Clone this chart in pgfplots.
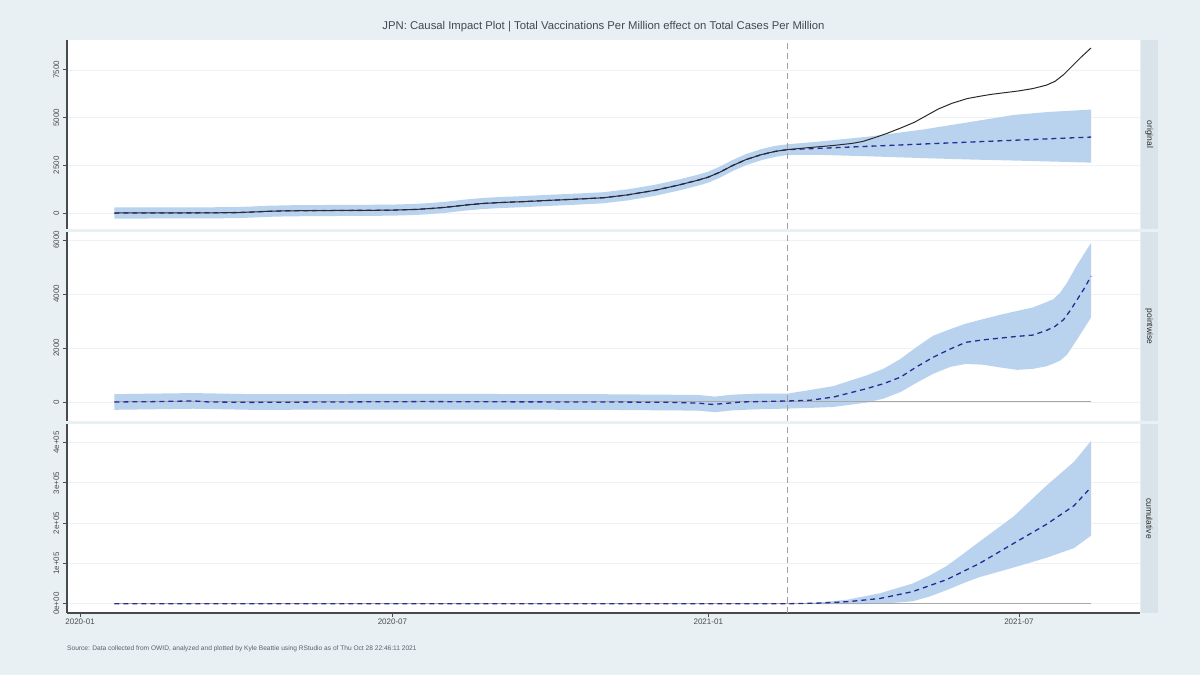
\documentclass[border=0pt]{standalone}
\usepackage{pgfplots}
\pgfplotsset{compat=1.18}
\usepackage{pgfplotstable}
\usepgfplotslibrary{fillbetween}
\usepackage{fontspec}
\setmainfont{Liberation Sans}

\definecolor{bgc}{HTML}{E8F0F3}
\definecolor{stripc}{HTML}{D9E4EA}
\definecolor{bandc}{HTML}{B9D3EE}
\definecolor{meanc}{RGB}{40,42,150}
\definecolor{respc}{HTML}{2B2B2B}
\definecolor{axisc}{HTML}{4A4A4A}
\definecolor{tickc}{HTML}{4D4D4D}
\definecolor{gridc}{HTML}{EFF2F4}
\definecolor{zeroc}{HTML}{A8A8A8}
\definecolor{vlinec}{HTML}{A0A0A0}
\definecolor{titlec}{HTML}{404A55}
\definecolor{srcc}{HTML}{5A6068}

% ---------- Panel 1: original ----------
\pgfplotstableread{
d y
20 0
40 2
60 5
80 12
91 20
100 50
110 90
121 115
135 125
152 134
167 140
182 150
196 190
205 240
213 300
220 370
227 440
235 500
244 545
259 600
274 665
290 730
305 800
319 950
335 1190
349 1470
360 1720
366 1880
373 2150
380 2480
388 2800
397 3060
405 3230
412 3320
425 3430
439 3540
450 3650
456 3750
463 3950
470 4170
478 4450
486 4750
493 5100
500 5450
508 5750
517 6000
525 6130
531 6220
540 6320
547 6400
555 6520
563 6700
568 6900
573 7250
578 7700
583 8150
589 8650
}\respA

\pgfplotstableread{
d m
20 0
40 2
60 5
80 12
91 20
100 50
110 90
121 115
135 125
152 134
167 140
182 150
196 190
205 240
213 300
220 370
227 440
235 500
244 545
259 600
274 665
290 730
305 800
319 950
335 1190
349 1470
360 1720
366 1880
373 2150
380 2480
388 2800
397 3060
405 3230
412 3320
460 3499
520 3723
589 3980
}\meanA

\pgfplotstableread{
d lo hi
20 -290 290
40 -288 292
60 -285 295
80 -278 302
91 -270 310
100 -240 340
110 -200 380
121 -175 405
135 -165 415
152 -156 424
167 -150 430
182 -140 440
196 -100 480
205 -50 530
213 10 590
220 80 660
227 150 730
235 210 790
244 255 835
259 310 890
274 375 955
290 440 1020
305 510 1090
319 660 1240
335 900 1480
349 1180 1760
360 1430 2010
366 1590 2170
373 1860 2440
380 2190 2770
388 2510 3090
397 2770 3350
405 2940 3520
412 3040 3600
430 3050 3740
460 2970 4010
490 2880 4360
520 2800 4790
544 2750 5140
565 2700 5300
589 2640 5420
}\bandA

% ---------- Panel 2: pointwise ----------
\pgfplotstableread{
d m
20 0
40 10
66 40
75 0
100 -15
150 0
200 15
250 5
300 0
340 -10
360 -40
368 -90
375 -60
385 0
400 20
412 37
425 61
439 184
458 490
468 675
478 920
487 1288
497 1656
507 1963
516 2209
526 2300
546 2430
555 2478
563 2650
568 2800
573 3050
577 3400
581 3800
585 4200
589 4660
}\meanB

\pgfplotstableread{
d lo hi
20 -290 290
66 -250 330
100 -290 290
200 -280 300
300 -290 290
360 -320 260
370 -380 200
380 -310 270
395 -270 310
412 -245 310
425 -220 440
439 -184 590
458 -25 980
468 123 1227
478 368 1595
487 700 2020
497 1043 2454
507 1300 2699
516 1411 2900
526 1380 3068
536 1280 3230
546 1190 3374
555 1227 3497
563 1320 3700
567 1420 3804
571 1534 4050
575 1750 4417
581 2331 5092
589 3129 5890
}\bandB

% ---------- Panel 3: cumulative ----------
\pgfplotstableread{
d m
20 0
412 0
430 1500
447 5000
466 13000
485 30000
505 60000
524 100000
544 150000
563 197000
579 243000
589 289000
}\meanC

\pgfplotstableread{
d lo hi
412 0 0
430 -1000 3000
447 -1000 10000
466 -500 26000
485 6000 50000
495 18000 70000
505 34000 94000
514 50000 122000
524 66000 154000
544 90000 217000
563 114000 293000
579 138000 352000
589 169000 404000
}\bandC

\pgfplotsset{
  panel/.style={
    scale only axis, width=1073pt, height=189pt,
    xmin=-7.6, xmax=617.5,
    axis background/.style={fill=white},
    axis line style={draw=axisc, line width=1.1pt},
    ymajorgrids, grid style={draw=gridc, line width=0.7pt},
    tick style={draw=axisc, line width=0.8pt},
    major tick length=4pt,
    tick align=outside,
    yticklabel style={rotate=90, anchor=south, font=\fontsize{8}{9}\selectfont, text=tickc, inner sep=1pt, yshift=2.5pt},
    xticklabel style={font=\fontsize{8}{9}\selectfont, text=tickc, inner sep=1.5pt},
    scaled y ticks=false,
    /pgf/number format/assume math mode=true,
    axis y line*=left,
  },
  bandstyle/.style={fill=bandc, draw=none},
  meanstyle/.style={draw=meanc, line width=1.3pt, dash pattern=on 5pt off 4pt},
  vstyle/.style={draw=vlinec, line width=0.9pt, dash pattern=on 6pt off 4pt},
}

\pagecolor{bgc}
\begin{document}
\begin{tikzpicture}
\path (0pt,0pt) rectangle (1200pt,675pt);

% Panel 1
\begin{axis}[panel, at={(67pt,635pt)}, anchor=north west,
  axis x line=none,
  ymin=-838, ymax=9067,
  ytick={0,2500,5000,7500}, yticklabels={0,2500,5000,7500}]
  \addplot[name path=hiA, draw=none] table[x=d,y=hi]{\bandA};
  \addplot[name path=loA, draw=none] table[x=d,y=lo]{\bandA};
  \addplot[bandstyle] fill between[of=hiA and loA];
  \addplot[meanstyle] table[x=d,y=m]{\meanA};
  \addplot[draw=respc, line width=1pt] table[x=d,y=y]{\respA};
  \addplot[vstyle] coordinates {(412,-838) (412,9067)};
\end{axis}

% Panel 2
\begin{axis}[panel, at={(67pt,443pt)}, anchor=north west,
  axis x line=none,
  ymin=-704, ymax=6296,
  ytick={0,2000,4000,6000}, yticklabels={0,2000,4000,6000}]
  \addplot[draw=zeroc, line width=1pt] coordinates {(20,0) (589,0)};
  \addplot[name path=hiB, draw=none] table[x=d,y=hi]{\bandB};
  \addplot[name path=loB, draw=none] table[x=d,y=lo]{\bandB};
  \addplot[bandstyle] fill between[of=hiB and loB];
  \addplot[meanstyle] table[x=d,y=m]{\meanB};
  \addplot[vstyle] coordinates {(412,-704) (412,6296)};
\end{axis}

% Panel 3
\begin{axis}[panel, at={(67pt,251pt)}, anchor=north west,
  axis x line*=bottom,
  ymin=-23000, ymax=446000,
  ytick={0,100000,200000,300000,400000},
  yticklabels={0e+00,1e+05,2e+05,3e+05,4e+05},
  xtick={0,182,366,547},
  xticklabels={2020-01,2020-07,2021-01,2021-07}]
  \addplot[draw=zeroc, line width=1pt] coordinates {(20,0) (589,0)};
  \addplot[name path=hiC, draw=none] table[x=d,y=hi]{\bandC};
  \addplot[name path=loC, draw=none] table[x=d,y=lo]{\bandC};
  \addplot[bandstyle] fill between[of=hiC and loC];
  \addplot[meanstyle] table[x=d,y=m]{\meanC};
  \addplot[vstyle] coordinates {(412,-23000) (412,446000)};
\end{axis}

% Strips
\fill[stripc] (1140.5pt,446pt) rectangle (1158pt,635pt);
\fill[stripc] (1140.5pt,254pt) rectangle (1158pt,443pt);
\fill[stripc] (1140.5pt,62pt) rectangle (1158pt,251pt);
\node[rotate=-90, font=\fontsize{8.5}{10}\selectfont, text=respc] at (1149.3pt,540.5pt) {original};
\node[rotate=-90, font=\fontsize{8.5}{10}\selectfont, text=respc] at (1149.3pt,348.5pt) {pointwise};
\node[rotate=-90, font=\fontsize{8.5}{10}\selectfont, text=respc] at (1149.3pt,156.5pt) {cumulative};

% Title and source
\node[font=\fontsize{11.3}{13}\selectfont, text=titlec] at (603.5pt,648pt) {JPN: Causal Impact Plot | Total Vaccinations Per Million effect on Total Cases Per Million};
\node[anchor=west, inner sep=0pt, font=\fontsize{6.6}{8}\selectfont, text=srcc] at (67pt,26pt) {Source: Data collected from OWID, analyzed and plotted by Kyle Beattie using RStudio as of Thu Oct 28 22:46:11 2021};
\end{tikzpicture}
\end{document}
